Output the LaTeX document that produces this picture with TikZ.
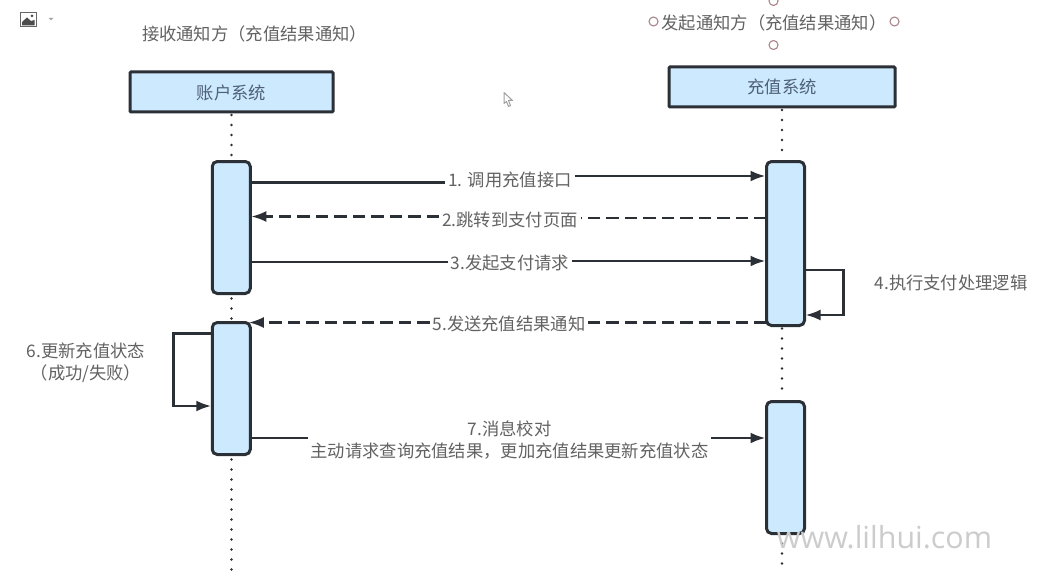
\documentclass[tikz,border=0pt]{standalone}
\usepackage{fontspec}
\setmainfont{Noto Sans CJK SC}
\newfontfamily\wmfont{Open Sans}
\usetikzlibrary{arrows.meta,calc}
\definecolor{ink}{HTML}{2B3036}
\definecolor{boxfill}{HTML}{CCE9FD}
\definecolor{txt}{HTML}{626262}
\definecolor{boxtxt}{HTML}{4F6078}
\definecolor{handle}{HTML}{A8868A}
\tikzset{
  x=1pt,y=-1pt,
  every node/.style={font=\fontsize{17.3}{22}\selectfont,text=txt,inner sep=0pt,outer sep=0pt,align=center},
  headbox/.style={draw=ink,fill=boxfill,line width=3pt,rounded corners=1pt,minimum height=40pt,text=boxtxt},
  actbox/.style={draw=ink,fill=boxfill,line width=3pt,rounded corners=5pt,minimum width=38pt},
  lbl/.style={inner xsep=3pt},
  msg/.style={draw=ink,line width=2.6pt},
  tip/.style={-{Latex[length=15pt,width=11pt]},shorten >=1pt},
  back/.style={dash pattern=on 12.5pt off 6pt},
  life/.style={draw=ink,line width=2.6pt,line cap=round,dash pattern=on 0pt off 10pt},
  handlec/.style={draw=handle,line width=1.1pt,fill=white,circle,minimum size=9pt},
}
\begin{document}
\begin{tikzpicture}
\useasboundingbox (0,0) rectangle (1046,575);
\fill[white] (0,0) rectangle (1046,575);

% toolbar icon
\draw[draw=gray!80!black,line width=1pt,fill=white] (20.5,12.5) rectangle (36,27);
\fill[black!70] (22,25.5) -- (22,22) -- (27,17.5) -- (31,21) -- (34.5,20) -- (34.5,25.5) -- cycle;
\fill[black!70] (32,16) circle (1.5);
\fill[gray!70] (48.5,18) -- (53.5,18) -- (51,20.5) -- cycle;

% pointer
\draw[draw=gray!75,line width=1pt,fill=white,line join=round] (504,92.5) -- (504,103.5) -- (506.5,101.5) -- (508.5,106.5) -- (510.5,105.5) -- (508.5,100.5) -- (512.5,100.5) -- cycle;

% titles
\node (t1) at (254.5,33.5) {接收通知方（充值结果通知）};
\node (t2) at (774,22.5) {发起通知方（充值结果通知）};
\node[handlec] (h1) at (773.5,1) {};
\node[handlec] (h2) at (653.5,21.5) {};
\node[handlec] (h3) at (894.5,21.5) {};
\node[handlec] (h4) at (773.5,45) {};

% heads and activations
\node[headbox,minimum width=203pt] (sysA) at (231.5,92) {\raisebox{-2pt}[15pt][4pt]{账户系统}};
\node[headbox,minimum width=226pt] (sysB) at (782,87) {\raisebox{-1pt}[15pt][4pt]{充值系统}};
\node[actbox,minimum height=132pt] (A1) at (231.25,227.5) {};
\node[actbox,minimum height=132pt] (A2) at (231.25,388.5) {};
\node[actbox,minimum height=164pt] (B1) at (785.5,243.5) {};
\node[actbox,minimum height=132pt] (B2) at (785.5,467.5) {};

% lifelines
\coordinate (endA) at (231.5,570);
\coordinate (endB) at (782,564);
\draw[life] ($(sysA.south)+(0,3)$) -- ($(sysA.south |- A1.north)+(0,-4)$);
\draw[life] ($(sysA.south |- A1.south)+(0,5)$) -- ($(sysA.south |- A2.north)+(0,-2)$);
\draw[life] ($(sysA.south |- A2.south)+(0,5)$) -- (endA);
\draw[life] ($(sysB.south)+(0,3)$) -- ($(sysB.south |- B1.north)+(0,-5)$);
\draw[life] ($(sysB.south |- B1.south)+(0,3)$) -- ($(sysB.south |- B2.north)+(0,-5)$);
\draw[life] (sysB.south |- B2.south) -- (endB);

% labels
\node[lbl] (l1) at (510,180) {1. 调用充值接口};
\node[lbl] (l2) at (510,220) {2.跳转到支付页面};
\node[lbl] (l3) at (510,263) {3.发起支付请求};
\node[lbl] (l5) at (509,324) {5.发送充值结果通知};
\node[lbl] (l7) at (509.5,440) {7.消息校对\\主动请求查询充值结果，更加充值结果更新充值状态};
\node (l4) at (951,283) {4.执行支付处理逻辑};
\node (l6) at (86,363) {6.更新充值状态\\（成功/失败）};

% message 1
\draw[msg] (A1.east |- 0,182.5) -- (l1.west |- 0,182.5);
\draw[msg,tip] (l1.east |- 0,176) -- (B1.west |- 0,176);
% message 2
\draw[msg,back] (B1.west |- 0,218) -- (l2.east |- 0,218);
\draw[msg,back,tip] (l2.west |- 0,216.5) -- (A1.east |- 0,216.5);
% message 3
\draw[msg] (A1.east |- 0,262) -- (l3.west |- 0,262);
\draw[msg,tip] (l3.east |- 0,261) -- (B1.west |- 0,261);
% message 4
\coordinate (s4a) at ($(B1.east |- 0,270)+(39,0)$);
\coordinate (s4b) at ($(B1.east |- 0,315)+(39,0)$);
\draw[msg,tip] (B1.east |- 0,270) -- (s4a) -- (s4b) -- (B1.east |- 0,315);
% message 5
\draw[msg,back] (B1.west |- 0,322.5) -- (l5.east |- 0,322.5);
\draw[msg,back,-{Latex[length=15pt,width=11pt]},shorten >=-1.5pt] (l5.west |- 0,322.5) -- (A2.east |- 0,322.5);
% message 6
\coordinate (s6a) at ($(A2.west |- 0,333.5)+(-39,0)$);
\coordinate (s6b) at ($(A2.west |- 0,406)+(-39,0)$);
\draw[msg,tip] (A2.west |- 0,333.5) -- (s6a) -- (s6b) -- (A2.west |- 0,406);
% message 7
\draw[msg] (A2.east |- 0,438) -- (l7.west |- 0,438);
\draw[msg,tip] (l7.east |- 0,438) -- (B2.west |- 0,438);

% watermark
\node[font=\wmfont\fontsize{30.4}{36}\selectfont,text=black!20] (wm) at (884.5,537) {www.lilhui.com};
\end{tikzpicture}
\end{document}
